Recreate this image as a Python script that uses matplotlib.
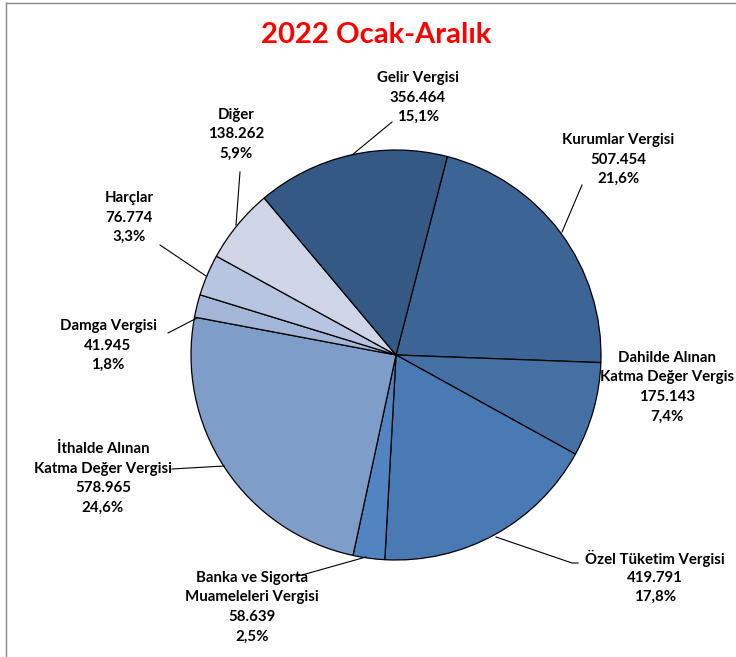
import matplotlib
matplotlib.use("Agg")
import matplotlib.pyplot as plt
from matplotlib.lines import Line2D

categories = ["Kurumlar Vergisi", "Dahilde Alınan\nKatma Değer Vergis", "Özel Tüketim Vergisi",
              "Banka ve Sigorta\nMuameleleri Vergisi", "İthalde Alınan\nKatma Değer Vergisi",
              "Damga Vergisi", "Harçlar", "Diğer", "Gelir Vergisi"]
values = [507454, 175143, 419791, 58639, 578965, 41945, 76774, 138262, 356464]
value_labels = ["507.454", "175.143", "419.791", "58.639", "578.965", "41.945", "76.774", "138.262", "356.464"]
pct_labels = ["21,6%", "7,4%", "17,8%", "2,5%", "24,6%", "1,8%", "3,3%", "5,9%", "15,1%"]
colors = ["#3C6494", "#4470A4", "#4A7AB4", "#5384C2", "#7E9DC8", "#A3B6D8", "#B7C5E0", "#CDD5E6", "#345984"]

W, H = 736, 657
fig = plt.figure(figsize=(W / 100, H / 100), dpi=100)
ax = fig.add_axes([0, 0, 1, 1])

cx, cy, r = 396, H - 355, 205
ax.pie(values, colors=colors, startangle=75.5, counterclock=False, center=(cx, cy), radius=r,
       wedgeprops=dict(edgecolor="black", linewidth=0.9), frame=True)
ax.set_xlim(0, W)
ax.set_ylim(0, H)
ax.set_aspect("equal")
ax.axis("off")

font = ["Lato", "DejaVu Sans"]

# label positions in pixel coords (x, y_top_line)
label_pos = [(618, 140), (667, 358), (655, 558), (252, 578), (103, 449), (108, 326), (129, 198), (236, 115), (418, 78)]
line_h = 19.5
for cat, v, p, (lx, ly) in zip(categories, value_labels, pct_labels, label_pos):
    lines = cat.split("\n") + [v, p]
    for i, t in enumerate(lines):
        ax.text(lx, H - (ly + i * line_h), t, ha="center", va="center", fontsize=10.8,
                fontweight="bold", family=font, color="black")

leaders = [
    [(562, 232), (582, 185)],
    [(496, 537), (572, 563), (578, 563)],
    [(366, 557), (302, 575), (296, 576)],
    [(224, 466), (172, 469)],
    [(197, 318), (168, 333)],
    [(206, 276), (160, 245)],
    [(236, 225), (240, 172)],
    [(352, 155), (392, 122)],
]
for pts in leaders:
    ax.plot([p[0] for p in pts], [H - p[1] for p in pts], color="black", lw=0.8)

ax.text(376, H - 35, "2022 Ocak-Aralık", ha="center", va="center", fontsize=21,
        fontweight="bold", family=font, color="#FF0000")

fig.add_artist(Line2D([6 / W, 1], [1 - 3 / H, 1 - 3 / H], transform=fig.transFigure, color="#888888", lw=1))
fig.add_artist(Line2D([6 / W, 6 / W], [0, 1 - 3 / H], transform=fig.transFigure, color="#888888", lw=1))

fig.savefig("out.png", dpi=100)
